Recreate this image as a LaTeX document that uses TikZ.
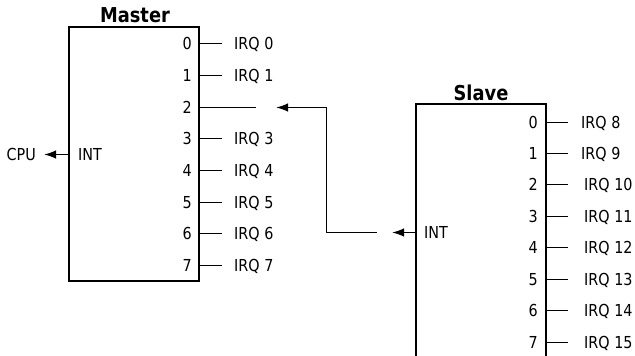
\documentclass[tikz,border=0pt]{standalone}
\usepackage{fontspec}
\setmainfont{DejaVu Sans}[FakeStretch=0.87]
\usetikzlibrary{arrows.meta}
\begin{document}
\begin{tikzpicture}[x=1pt,y=-1pt,
  box/.style={draw, line width=1.7pt, inner sep=0pt, minimum width=130pt},
  pin/.style={line width=1.5pt},
  lbl/.style={font=\fontsize{16.5}{18}\selectfont, inner sep=0pt},
  ttl/.style={font=\fontsize{20.5}{22}\selectfont\bfseries, inner sep=0pt, anchor=base},
  arr/.style={line width=1.5pt, -{Latex[length=12pt,width=8.5pt]}}]
\useasboundingbox (0,0) rectangle (635,356);
\clip (0,0) rectangle (635,356);
% Master
\node[box, minimum height=254pt] (master) at (134,154) {};
\node[ttl] (mtitle) at (135,22.7) {Master};
\foreach \i/\yy in {0/43.5,1/75.5,2/107.5,3/138.5,4/170.5,5/202.5,6/233.5,7/265.5} {
  \coordinate (m\i) at (199,\yy);
  \node[lbl, anchor=east] (mn\i) at (192,\yy) {\i};
}
\foreach \i/\yy in {0/43.5,1/75.5,3/138.5,4/170.5,5/202.5,6/233.5,7/265.5} {
  \coordinate (me\i) at (222,\yy);
  \draw[pin] (m\i) -- (me\i);
  \node[lbl, anchor=base west] (mi\i) at (234,\yy+5.5) {IRQ \i};
}
\coordinate (me2) at (256,107.5);
\draw[pin] (m2) -- (me2);
% CPU
\node[lbl, anchor=east] (cpu) at (36,154.5) {CPU};
\node[lbl, anchor=west] (mint) at (78,154.5) {INT};
\coordinate (mw) at (69,154.5);
\draw[arr, shorten >=8pt] (mw) -- (cpu.east);
% Slave
\node[box, minimum height=276pt] (slave) at (481,242.3) {};
\node[ttl] (stitle) at (481,100.7) {Slave};
\foreach \i/\yy in {0/122.5,1/153.5,2/184.5,3/216.5,4/247.5,5/279.5,6/310.5,7/342.5} {
  \pgfmathtruncatemacro{\irq}{\i+8}
  \pgfmathsetmacro{\lx}{\i<2 ? 581 : 584}
  \coordinate (s\i) at (546,\yy);
  \coordinate (se\i) at (568,\yy);
  \draw[pin] (s\i) -- (se\i);
  \node[lbl, anchor=east] (sn\i) at (538,\yy) {\i};
  \node[lbl, anchor=base west] (si\i) at (\lx,\yy+5.5) {IRQ \irq};
}
\node[lbl, anchor=west] (sint) at (424,232.5) {INT};
\coordinate (sin) at (416,232.5);
\coordinate (sa) at (392,232.5);
\draw[arr] (sin) -- (sa);
% Cascade line
\coordinate (j2) at (377,232.5);
\coordinate (j1) at (326.5,232.5);
\coordinate (t2) at (276,107.5);
\draw[arr] (j2) -- (j1) |- (t2);
\end{tikzpicture}
\end{document}
